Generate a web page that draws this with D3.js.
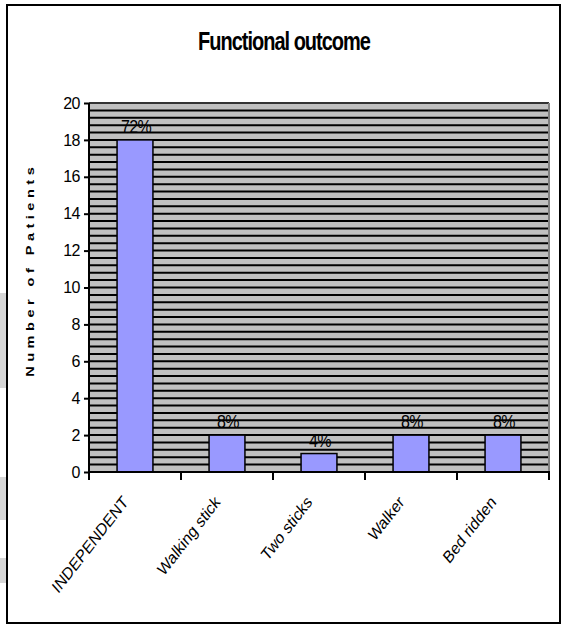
<!DOCTYPE html>
<html>
<head>
<meta charset="utf-8">
<script src="https://cdn.jsdelivr.net/npm/d3@7"></script>
<style>
  html, body { margin: 0; padding: 0; background: #fff; }
  svg { display: block; }
  text { font-family: Arial, "Liberation Sans", sans-serif; }
</style>
</head>
<body>
<script>
// ---- data ----
const categories = ["INDEPENDENT", "Walking stick", "Two sticks", "Walker", "Bed ridden"];
const patients = [18, 2, 1, 2, 2];
const percentLabels = ["72%", "8%", "4%", "8%", "8%"];
const yTicks = [0, 2, 4, 6, 8, 10, 12, 14, 16, 18, 20];
const yMax = 20;
const gridStep = 0.4;
const title = "Functional outcome";
const yTitle = "Number of Patients";

// ---- layout ----
const W = 563, H = 625;
const plot = { left: 89, right: 549, top: 103, bottom: 472 };

const svg = d3.select("body").append("svg").attr("width", W).attr("height", H);
svg.append("rect").attr("width", W).attr("height", H).attr("fill", "#fff");

// scan artifacts on the left edge
[[293, 388], [477, 520], [558, 583]].forEach(([a, b]) => {
  svg.append("rect").attr("x", 0).attr("y", a).attr("width", 6).attr("height", b - a)
    .attr("fill", "#d6d6d6");
});

// outer frame
svg.append("rect").attr("x", 7).attr("y", 5).attr("width", 553).attr("height", 618)
  .attr("fill", "none").attr("stroke", "#000").attr("stroke-width", 2);

const x = d3.scaleBand().domain(categories).range([plot.left, plot.right]).paddingInner(0).paddingOuter(0);
const y = d3.scaleLinear().domain([0, yMax]).range([plot.bottom, plot.top]);

// plot background
svg.append("rect").attr("x", plot.left).attr("y", plot.top)
  .attr("width", plot.right - plot.left).attr("height", plot.bottom - plot.top)
  .attr("fill", "#c0c0c0");

// gridlines
const gridVals = d3.range(1, Math.round(yMax / gridStep)).map(i => +(i * gridStep).toFixed(2));
svg.append("g").selectAll("line").data(gridVals).join("line")
  .attr("x1", plot.left).attr("x2", plot.right)
  .attr("y1", d => y(d)).attr("y2", d => y(d))
  .attr("stroke", "#000").attr("stroke-width", 2);

// plot border top/right
svg.append("line").attr("x1", plot.left).attr("x2", plot.right).attr("y1", plot.top).attr("y2", plot.top)
  .attr("stroke", "#333").attr("stroke-width", 2);
svg.append("line").attr("x1", plot.right).attr("x2", plot.right).attr("y1", plot.top).attr("y2", plot.bottom)
  .attr("stroke", "#808080").attr("stroke-width", 2);

// bars
const barW = x.bandwidth() * 0.39;
svg.append("g").selectAll("rect").data(categories).join("rect")
  .attr("x", d => x(d) + x.bandwidth() / 2 - barW / 2)
  .attr("y", (d, i) => y(patients[i]))
  .attr("width", barW)
  .attr("height", (d, i) => y(0) - y(patients[i]))
  .attr("fill", "#9999ff").attr("stroke", "#000").attr("stroke-width", 1.5);

// value labels
svg.append("g").selectAll("text").data(categories).join("text")
  .attr("transform", (d, i) => `translate(${x(d) + x.bandwidth() / 2 + 1},${y(patients[i]) - 7}) scale(1,1.12)`)
  .attr("text-anchor", "middle").attr("font-size", 16).attr("letter-spacing", -0.6)
  .attr("fill", "#000")
  .text((d, i) => percentLabels[i]);

// y axis
const yAxis = svg.append("g").attr("transform", `translate(${plot.left},0)`)
  .call(d3.axisLeft(y).tickValues(yTicks).tickSize(5).tickPadding(4).tickFormat(d3.format("d")));
yAxis.select(".domain").attr("stroke", "#000").attr("stroke-width", 2).attr("d", `M0,${plot.top}V${plot.bottom}`);
yAxis.selectAll(".tick line").attr("stroke", "#000").attr("stroke-width", 2);
yAxis.selectAll(".tick text").attr("font-size", 16).attr("font-family", "Arial, 'Liberation Sans', sans-serif")
  .attr("fill", "#000").attr("letter-spacing", -0.5);

// x axis
const xAxis = svg.append("g").attr("transform", `translate(0,${plot.bottom})`);
xAxis.append("line").attr("x1", plot.left).attr("x2", plot.right + 1).attr("y1", 0).attr("y2", 0)
  .attr("stroke", "#000").attr("stroke-width", 2);
const boundaries = categories.map(c => x(c)).concat([x(categories[categories.length - 1]) + x.bandwidth()]);
xAxis.selectAll("line.t").data(boundaries).join("line").attr("class", "t")
  .attr("x1", d => d).attr("x2", d => d).attr("y1", 0).attr("y2", 8)
  .attr("stroke", "#000").attr("stroke-width", 2);

// x category labels (rotated)
svg.append("g").selectAll("text").data(categories).join("text")
  .attr("transform", d => `translate(${x(d) + x.bandwidth() / 2 - 6},503) scale(1,1.2) rotate(-47)`)
  .attr("text-anchor", "end").attr("font-size", 14.5).attr("fill", "#000")
  .text(d => d);

// title
svg.append("text")
  .attr("transform", `translate(284,50) scale(1,1.27)`)
  .attr("text-anchor", "middle").attr("font-size", 20).attr("font-weight", "bold")
  .attr("letter-spacing", -1).attr("fill", "#000")
  .text(title);

// y title
svg.append("text")
  .attr("transform", `translate(34,272) rotate(-90) scale(1.27,1)`)
  .attr("text-anchor", "middle").attr("font-size", 11.5).attr("font-weight", "bold")
  .attr("textLength", 165).attr("lengthAdjust", "spacing").attr("fill", "#000")
  .text(yTitle);
</script>
</body>
</html>
